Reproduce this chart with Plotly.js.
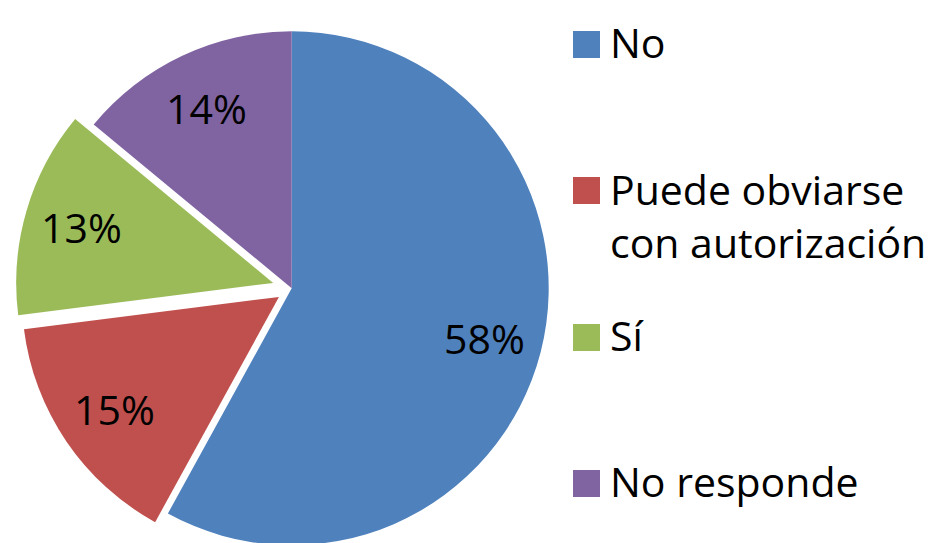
<!DOCTYPE html>
<html>
<head>
<meta charset="utf-8">
<script src="https://cdn.plot.ly/plotly-3.0.1.min.js"></script>
<style>
html, body { margin: 0; padding: 0; overflow: hidden; background: #ffffff; }
#chart { width: 939px; height: 576px; }
</style>
</head>
<body>
<div id="chart"></div>
<script>
// ---- data ----
const categories = ['No', 'Puede obviarse con autorización', 'Sí', 'No responde'];
const legendText = ['No', 'Puede obviarse<br>con autorización', 'Sí', 'No responde'];
const values = [58, 15, 13, 14];

// ---- styles ----
const colors = ['#4F81BD', '#C0504D', '#9BBB59', '#8064A2'];
const pulls = [0, 0.06, 0.075, 0];
const FONT = "'Open Sans', 'Liberation Sans', sans-serif";
const FS = 41;

// ---- layout geometry (pixels) ----
const W = 939, H = 576;
const CX = 291.7, CY = 288.3, R = 257;
const LABEL_R = 0.775;
const half = R * (1 + Math.max(...pulls));

const annotations = [];

// percentage labels placed along each slice's middle angle
const total = values.reduce((a, b) => a + b, 0);
let cum = 0;
values.forEach((v, i) => {
  const a0 = cum / total * 2 * Math.PI;
  cum += v;
  const a1 = cum / total * 2 * Math.PI;
  const mid = (a0 + a1) / 2;
  const dx = Math.sin(mid), dy = -Math.cos(mid);
  const rr = R * (pulls[i] + LABEL_R);
  const px = CX + dx * rr, py = CY + dy * rr;
  annotations.push({
    xref: 'paper', yref: 'paper', x: px / W, y: 1 - py / H,
    text: Math.round(v / total * 100) + '%', showarrow: false,
    font: { family: FONT, size: FS, color: '#000000' },
    xanchor: 'center', yanchor: 'middle', borderpad: 0
  });
});

// legend (square + label)
const LEG_BASE0 = 57.3, LEG_STEP = 146.1;
categories.forEach((c, i) => {
  const base = LEG_BASE0 + i * LEG_STEP;
  annotations.push({
    xref: 'paper', yref: 'paper', x: 573 / W, y: 1 - (base - 12.5) / H,
    xanchor: 'left', yanchor: 'middle', text: ' ', font: { size: 2 },
    width: 27, height: 27, bgcolor: colors[i], borderpad: 0, borderwidth: 0,
    showarrow: false
  });
  annotations.push({
    xref: 'paper', yref: 'paper', x: 609 / W, y: 1 - (base - 1.069 * FS) / H,
    xanchor: 'left', yanchor: 'top', align: 'left', text: legendText[i],
    font: { family: FONT, size: FS, color: '#000000' },
    borderpad: 0, showarrow: false
  });
});

const trace = {
  type: 'pie',
  labels: categories,
  values: values,
  marker: { colors: colors, line: { width: 0 } },
  pull: pulls,
  sort: false,
  direction: 'clockwise',
  rotation: 0,
  textinfo: 'none',
  hoverinfo: 'none',
  showlegend: false,
  domain: {
    x: [(CX - half) / W, (CX + half) / W],
    y: [1 - (CY + half) / H, 1 - (CY - half) / H]
  }
};

const layout = {
  width: W, height: H,
  margin: { l: 0, r: 0, t: 0, b: 0, pad: 0 },
  showlegend: false,
  paper_bgcolor: '#ffffff',
  plot_bgcolor: '#ffffff',
  font: { family: FONT },
  annotations: annotations
};

Plotly.newPlot('chart', [trace], layout, { staticPlot: true, displayModeBar: false });
</script>
</body>
</html>
